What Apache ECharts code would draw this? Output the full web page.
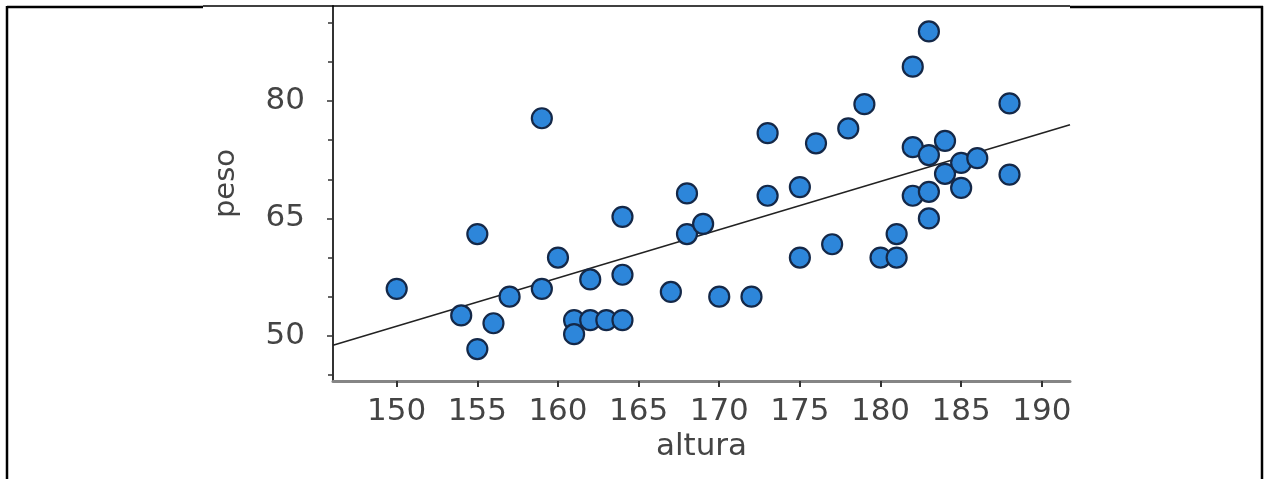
<!DOCTYPE html>
<html>
<head>
<meta charset="utf-8">
<script src="https://cdn.jsdelivr.net/npm/echarts@6/dist/echarts.min.js"></script>
<style>
html,body{margin:0;padding:0;background:#fff;}
#c{width:1266px;height:479px;}
</style>
</head>
<body>
<div id="c"></div>
<script>
const altura = [150,154,155,155,156,157,159,159,160,161,161,162,162,163,164,164,164,167,168,168,169,170,172,173,173,175,175,176,177,178,179,180,181,181,182,182,182,183,183,183,183,184,184,185,185,186,188,188];
const peso   = [56,52.6,63,48.3,51.6,55,77.8,56,60,52,50.2,57.2,52,52,52,57.8,65.2,55.6,68.2,63,64.3,55,55,75.9,67.9,69,60,74.6,61.7,76.5,79.6,60,60,63,84.4,74.1,67.9,88.9,73.1,68.4,65,74.9,70.7,72.1,68.9,72.7,79.7,70.6];
const regX = [146.05, 191.75];
const regY = [48.78, 76.97];
const xTicks = [150,155,160,165,170,175,180,185,190];
const yMajor = [50,65,80];
const yMinor = [45,55,60,70,75,85,90];

const chart = echarts.init(document.getElementById('c'), null, {renderer:'canvas'});
const font = 'DejaVu Sans';
const points = altura.map((a,i)=>[a,peso[i]]);
const reg = regX.map((x,i)=>[x,regY[i]]);
const X = {min:146.05, max:191.75};
const Y = {min:44.22, max:92.15};
const G = {left:333,right:196,top:6,bottom:98,containLabel:false};

function tickAxis(gi, vals, len, pos, w){
  const isX = pos==='bottom';
  return {
    type:'value', gridIndex:gi, min:isX?X.min:Y.min, max:isX?X.max:Y.max, position:pos,
    axisLine:{show:false,onZero:false},
    axisTick:{show:true,customValues:vals.slice(),length:len,lineStyle:{color:'#333',width:w}},
    axisLabel:{show:false},
    splitLine:{show:false}
  };
}

chart.setOption({
  animation:false,
  backgroundColor:'#fff',
  grid:[G, Object.assign({},G), Object.assign({},G)],
  xAxis:[{
    type:'value', gridIndex:0, min:X.min, max:X.max,
    name:'altura', nameLocation:'middle', nameGap:38,
    nameTextStyle:{fontFamily:font,fontSize:31,color:'#444'},
    axisLine:{show:true,onZero:false,lineStyle:{color:'#858585',width:3}},
    axisTick:{show:false},
    axisLabel:{customValues:xTicks.slice(),margin:15,fontFamily:font,fontSize:31,color:'#444'},
    splitLine:{show:false}
  },
  tickAxis(1, xTicks, 6, 'bottom', 2),
  {type:'value', gridIndex:2, min:X.min, max:X.max, show:false}
  ],
  yAxis:[{
    type:'value', gridIndex:0, min:Y.min, max:Y.max,
    name:'peso', nameLocation:'middle', nameGap:92, nameRotate:90,
    nameTextStyle:{fontFamily:font,fontSize:29,color:'#444',padding:[0,0,0,20]},
    axisLine:{show:true,onZero:false,lineStyle:{color:'#333',width:2}},
    axisTick:{show:false},
    axisLabel:{customValues:yMajor.slice(),margin:28,fontFamily:font,fontSize:31,color:'#444'},
    splitLine:{show:false}
  },
  tickAxis(1, yMinor, 5, 'left', 1.5),
  tickAxis(2, yMajor, 6, 'left', 1.5)
  ],
  series:[{
    type:'line', xAxisIndex:0, yAxisIndex:0, data:reg, symbol:'none', silent:true,
    lineStyle:{color:'#222',width:1.6}, z:1
  },{
    type:'scatter', xAxisIndex:0, yAxisIndex:0, data:points, symbol:'circle', symbolSize:20,
    itemStyle:{color:'#2d86da',borderColor:'#142848',borderWidth:2.2,opacity:1}, z:2
  }],
  graphic:[
    {type:'line',shape:{x1:7,y1:7,x2:203,y2:7},style:{stroke:'#000',lineWidth:2.5},z:100},
    {type:'line',shape:{x1:203,y1:6,x2:1070,y2:6},style:{stroke:'#000',lineWidth:1.3},z:100},
    {type:'line',shape:{x1:1070,y1:7,x2:1263,y2:7},style:{stroke:'#000',lineWidth:2.5},z:100},
    {type:'line',shape:{x1:7,y1:6,x2:7,y2:479},style:{stroke:'#000',lineWidth:2.5},z:100},
    {type:'line',shape:{x1:1262,y1:6,x2:1262,y2:479},style:{stroke:'#000',lineWidth:2.5},z:100}
  ]
});
</script>
</body>
</html>
